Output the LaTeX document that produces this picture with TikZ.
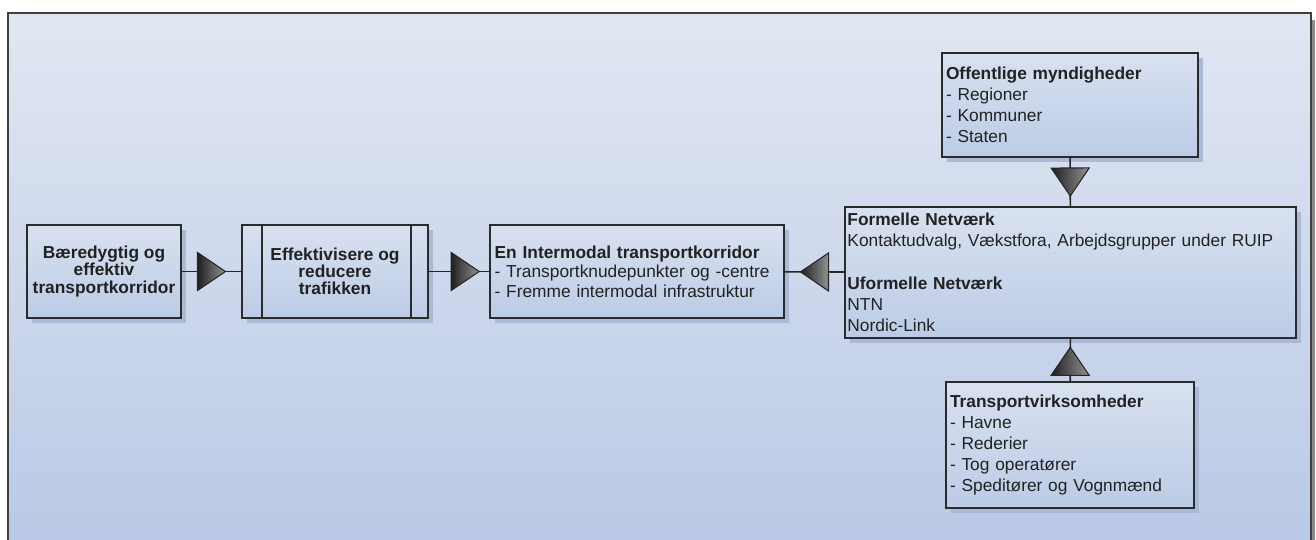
\documentclass[tikz,border=0pt]{standalone}
\usepackage{fontspec}
\setmainfont{Liberation Sans}
\usetikzlibrary{decorations.markings,shadows}
\definecolor{bgtop}{HTML}{E1E7F2}
\definecolor{bgbot}{HTML}{B8C8E5}
\definecolor{boxtop}{HTML}{D8E1F0}
\definecolor{boxbot}{HTML}{BCCBE6}
\definecolor{edgec}{HTML}{2B2B2B}
\definecolor{shadowc}{HTML}{A6B6D4}
\definecolor{txt}{HTML}{222222}
\tikzset{
  basebox/.style={draw=edgec, line width=1.5pt, top color=boxtop, bottom color=boxbot,
    text=txt, outer sep=0pt, inner ysep=0pt,
    drop shadow={shadow xshift=3.5pt, shadow yshift=-3.5pt, fill=shadowc, opacity=0.9}},
  centerbox/.style={basebox, align=center, inner xsep=2pt,
    font=\fontsize{13}{12.9}\selectfont\bfseries},
  leftbox/.style={basebox, align=left,
    font=\fontsize{13}{15.9}\selectfont},
  conn/.style={draw=black!85, line width=1.2pt},
  midtri/.style={postaction={decorate, decoration={markings,
    mark=at position #1 with {\draw[draw=black!85, line width=0.8pt, left color=black!88, right color=black!42]
      (-14,-19) -- (14,0) -- (-14,19) -- cycle;}}}}
}
\begin{document}
\begin{tikzpicture}[x=0.75pt,y=-0.75pt]
\useasboundingbox (0,0) rectangle (1316,539);
\clip (0,0) rectangle (1316,539);
% frame
\fill[black!45] (12,20) rectangle (1315,560);
\draw[draw=black!75, line width=1.5pt, top color=bgtop, bottom color=bgbot] (8,13) rectangle (1311,560);

% boxes
\node[centerbox, minimum width=115.5pt, minimum height=69.75pt] (b1) at (104,271.5)
  {Bæredygtig og\\effektiv\\transportkorridor};
\node[centerbox, minimum width=139.5pt, minimum height=69.75pt] (b2) at (335,271.5)
  {Effektivisere og\\reducere\\trafikken};
\draw[draw=edgec, line width=1.2pt] ([xshift=15pt]b2.north west) -- ([xshift=15pt]b2.south west);
\draw[draw=edgec, line width=1.2pt] ([xshift=-12.75pt]b2.north east) -- ([xshift=-12.75pt]b2.south east);
\node[leftbox, font=\fontsize{13}{14.6}\selectfont, inner xsep=3.5pt, text width=213.5pt, minimum height=69.75pt] (b3) at (637,271.5)
  {\textbf{En Intermodal transportkorridor}\\- Transportknudepunkter og -centre\\- Fremme intermodal infrastruktur};
\node[leftbox, inner xsep=1.8pt, text width=334.6pt, minimum height=98.25pt] (b4) at (1070.5,272.5)
  {\textbf{Formelle Netværk}\\Kontaktudvalg, Vækstfora, Arbejdsgrupper under RUIP\\\strut\\\textbf{Uformelle Netværk}\\NTN\\Nordic-Link};
\node[leftbox, inner xsep=3pt, text width=186pt, minimum height=78pt] (off) at (1070,105)
  {\textbf{Offentlige myndigheder}\\- Regioner\\- Kommuner\\- Staten};
\node[leftbox, inner xsep=3pt, text width=180pt, minimum height=94.5pt] (trans) at (1070,445)
  {\textbf{Transportvirksomheder}\\- Havne\\- Rederier\\- Tog operatører\\- Speditører og Vognmænd};

% connectors
\draw[conn, midtri=0.5] (b1) -- (b2);
\draw[conn, midtri=0.6] (b2) -- (b3);
\draw[conn, midtri=0.5] (b4) -- (b3);
\draw[conn, midtri=0.5] (off) -- (b4);
\draw[conn, midtri=0.47] (trans) -- (b4);
\end{tikzpicture}
\end{document}
